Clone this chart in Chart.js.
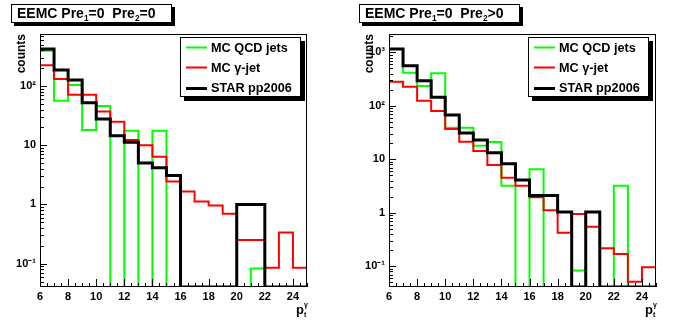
<!DOCTYPE html>
<html>
<head>
<meta charset="utf-8">
<script src="https://cdn.jsdelivr.net/npm/chart.js@4.4.1/dist/chart.umd.min.js"></script>
<style>
  html, body { margin: 0; padding: 0; background: #fff; }
  #wrap { position: relative; width: 696px; height: 322px; background: #fff; }
  #wrap canvas { position: absolute; top: 0; }
  #left { left: 0; }
  #right { left: 348px; }
</style>
</head>
<body>
<div id="wrap">
  <canvas id="left" width="348" height="322"></canvas>
  <canvas id="right" width="348" height="322"></canvas>
</div>
<script>
const FAMILY = '"Liberation Sans", Arial, Helvetica, sans-serif';

// bin edges in p_t (GeV), 19 bins of width 1
const binEdges = [6, 7, 8, 9, 10, 11, 12, 13, 14, 15, 16, 17, 18, 19, 20, 21, 22, 23, 24, 25];
const xTickValues = [6, 8, 10, 12, 14, 16, 18, 20, 22, 24];

// left pad: Pre1=0 Pre2=0
const qcdPre0  = [394, 56.5, 104, 18.1, 46, 0, 17.6, 0, 17.6, 0, 0, 0, 0, 0, 0, 0.083, 0, 0, 0];
const gamPre0  = [223, 131, 71, 71, 37, 25, 12.3, 10, 6.4, 2.43, 1.65, 1.12, 0.96, 0.70, 0.25, 0.25, 0.085, 0.336, 0.085];
const starPre0 = [421, 186, 126, 52.3, 27.8, 14.5, 11.2, 5.0, 4.17, 3.07, 0, 0, 0, 0, 1.0, 1.0, 0, 0, 0];
const yTickValuesPre0 = [0.1, 1, 10, 100];
const yTickLabelsPre0 = ['10⁻¹', '1', '10', '10²'];

// right pad: Pre1=0 Pre2>0
const qcdPre1  = [1150, 416, 235, 405, 39, 39, 18, 21, 3.2, 0, 6.5, 0, 0, 0.083, 0, 0, 3.2, 0, 0];
const gamPre1  = [282, 227, 125, 80, 37, 21.3, 14.3, 7.8, 4.5, 3.2, 1.95, 1.12, 0.425, 0.95, 0.55, 0.217, 0.17, 0.0515, 0.0957];
const starPre1 = [1153, 562, 295, 145, 67, 31, 23, 13.3, 8.3, 4.1, 2.1, 2.1, 1.03, 0, 1.03, 0, 0, 0, 0];
const yTickValuesPre1 = [0.1, 1, 10, 100, 1000];
const yTickLabelsPre1 = ['10⁻¹', '1', '10', '10²', '10³'];

const seriesNames = ['MC QCD jets', 'MC γ-jet', 'STAR pp2006'];
const seriesColors = ['#00ff00', '#ff0000', '#000000'];
const seriesWidths = [2, 2, 3];

function richText(ctx, x, y, parts, size) {
  for (const [txt, kind] of parts) {
    const s = kind === 'n' ? size : size * 0.6;
    const dy = kind === 'sub' ? size * 0.22 : kind === 'sup' ? -size * 0.45 : 0;
    ctx.font = `bold ${s}px ${FAMILY}`;
    ctx.fillText(txt, x, y + dy);
    x += ctx.measureText(txt).width;
  }
}

function boxWithShadow(ctx, x, y, w, h, sh) {
  ctx.fillStyle = '#000';
  ctx.fillRect(x + sh, y + sh, w, h);
  ctx.fillStyle = '#fff';
  ctx.fillRect(x, y, w, h);
  ctx.strokeStyle = '#000';
  ctx.lineWidth = 1;
  ctx.strokeRect(x + 0.5, y + 0.5, w - 1, h - 1);
}

function rootDecor(titleParts) {
  return {
    id: 'rootDecor',
    afterDraw(chart) {
      const { ctx, chartArea: a, scales } = chart;
      const xs = scales.x, ys = scales.y;
      ctx.save();
      ctx.strokeStyle = '#000';
      ctx.lineWidth = 1;
      // frame
      const L = Math.round(a.left), R = Math.round(a.right), T = Math.round(a.top), B = Math.round(a.bottom);
      ctx.strokeRect(L + 0.5, T + 0.5, R - L - 1, B - T - 1);
      // x tick marks (inside)
      ctx.beginPath();
      for (let v = xs.min; v <= xs.max + 1e-9; v += 0.5) {
        const px = Math.round(xs.getPixelForValue(v)) + 0.5;
        const len = ((v - 6) % 2 === 0) ? 8 : 4;
        ctx.moveTo(px, B);
        ctx.lineTo(px, B - len);
      }
      // y tick marks (inside, log minor ticks)
      const e0 = Math.floor(Math.log10(ys.min)), e1 = Math.ceil(Math.log10(ys.max));
      for (let e = e0; e <= e1; e++) {
        for (let m = 1; m <= 9; m++) {
          const v = m * Math.pow(10, e);
          if (v < ys.min || v > ys.max) continue;
          const py = Math.round(ys.getPixelForValue(v)) + 0.5;
          ctx.moveTo(L, py);
          ctx.lineTo(L + (m === 1 ? 7 : 4), py);
        }
      }
      ctx.stroke();

      // title box
      boxWithShadow(ctx, 11, 4, 161, 19, 3);
      ctx.fillStyle = '#000';
      ctx.textBaseline = 'alphabetic';
      ctx.textAlign = 'left';
      richText(ctx, 17, 18, titleParts, 14);

      // legend
      boxWithShadow(ctx, 180, 37, 121, 60, 4);
      chart.data.datasets.forEach((ds, i) => {
        const cy = 47 + i * 20.3;
        ctx.strokeStyle = ds.borderColor;
        ctx.lineWidth = ds.borderWidth;
        ctx.beginPath();
        ctx.moveTo(186, Math.round(cy) + 0.5);
        ctx.lineTo(207, Math.round(cy) + 0.5);
        ctx.stroke();
        ctx.fillStyle = '#000';
        ctx.font = `bold 12.7px ${FAMILY}`;
        ctx.fillText(ds.label, 211, cy + 4.5);
      });

      // axis titles
      ctx.fillStyle = '#000';
      ctx.save();
      ctx.translate(25, 34);
      ctx.rotate(-Math.PI / 2);
      ctx.textAlign = 'right';
      ctx.font = `bold 12px ${FAMILY}`;
      ctx.fillText('counts', 0, 0);
      ctx.restore();

      ctx.textAlign = 'left';
      ctx.font = `bold 13px ${FAMILY}`;
      const px0 = R - 11;
      ctx.fillText('p', px0, 313.5);
      const pw = ctx.measureText('p').width;
      ctx.font = `bold 7px ${FAMILY}`;
      ctx.fillText('γ', px0 + pw, 307);
      ctx.fillText('t', px0 + pw, 317);
      ctx.restore();
    }
  };
}

function makeChart(id, values, yMin, yMax, tickVals, tickLabels, yWidth, padRight, titleParts) {
  const datasets = values.map((vals, i) => ({
    label: seriesNames[i],
    borderColor: seriesColors[i],
    borderWidth: seriesWidths[i],
    stepped: 'before',
    fill: false,
    pointRadius: 0,
    borderCapStyle: 'butt',
    borderJoinStyle: 'miter',
    order: 3 - i,
    data: binEdges.map((e, k) => ({ x: e, y: Math.max(vals[Math.min(k, vals.length - 1)], yMin) }))
  }));
  const tickFont = { family: FAMILY, weight: 'bold', size: 11 };
  return new Chart(document.getElementById(id), {
    type: 'line',
    data: { datasets },
    options: {
      responsive: false,
      animation: false,
      layout: { padding: { top: 34, right: padRight, bottom: 0, left: 0 } },
      plugins: { legend: { display: false }, tooltip: { enabled: false } },
      scales: {
        x: {
          type: 'linear', min: 6, max: 25,
          grid: { display: false, drawTicks: false },
          border: { display: false },
          afterFit: s => { s.height = 35; },
          afterBuildTicks: s => { s.ticks = xTickValues.map(v => ({ value: v })); },
          ticks: { font: tickFont, color: '#000', padding: 3, maxRotation: 0, autoSkip: false }
        },
        y: {
          type: 'logarithmic', min: yMin, max: yMax,
          grid: { display: false, drawTicks: false },
          border: { display: false },
          afterFit: s => { s.width = yWidth; },
          afterBuildTicks: s => { s.ticks = tickVals.map(v => ({ value: v })); },
          ticks: {
            font: tickFont, color: '#000', padding: 4, autoSkip: false,
            callback: v => tickLabels[tickVals.indexOf(v)] ?? ''
          }
        }
      }
    },
    plugins: [rootDecor(titleParts)]
  });
}

makeChart('left', [qcdPre0, gamPre0, starPre0], 0.0404, 755, yTickValuesPre0, yTickLabelsPre0, 40, 41,
  [['EEMC Pre', 'n'], ['1', 'sub'], ['=0  Pre', 'n'], ['2', 'sub'], ['=0', 'n']]);
makeChart('right', [qcdPre1, gamPre1, starPre1], 0.041, 2200, yTickValuesPre1, yTickLabelsPre1, 41, 40,
  [['EEMC Pre', 'n'], ['1', 'sub'], ['=0  Pre', 'n'], ['2', 'sub'], ['>0', 'n']]);
</script>
</body>
</html>
